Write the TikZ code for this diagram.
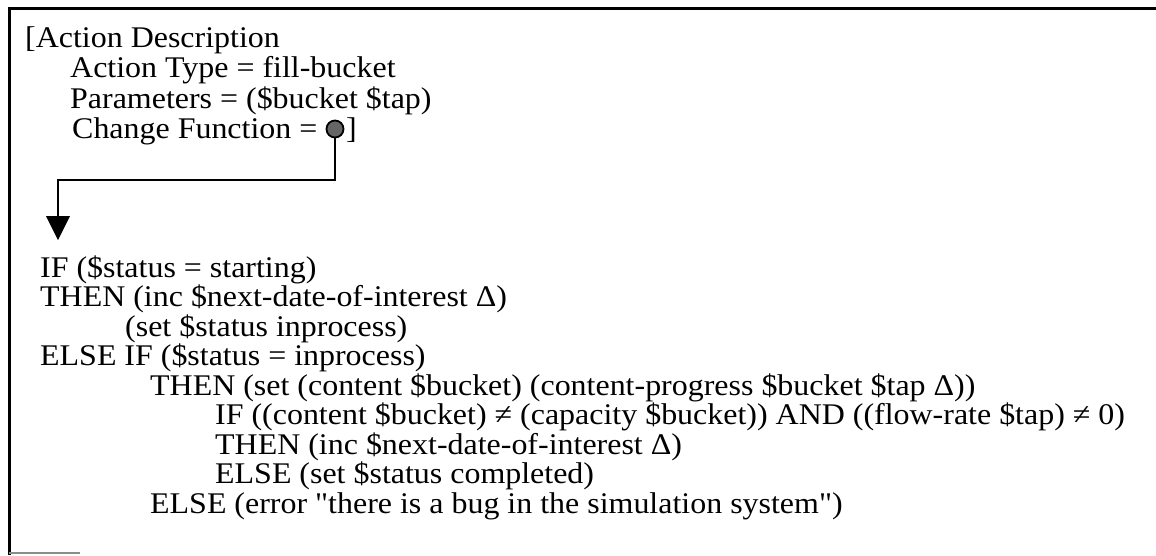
\documentclass[tikz,border=0pt]{standalone}
\usepackage{fontspec}
\setmainfont{Liberation Serif}[Ligatures=TeXOff,FakeStretch=1.065]
\begin{document}
\begin{tikzpicture}[x=1pt,y=-1pt,
  codeline/.style={anchor=base west,inner sep=0pt,font=\fontsize{30}{30}\selectfont},
  frame/.style={line width=3pt,black},
  wire/.style={line width=2.6pt,black}]
\useasboundingbox (0,0) rectangle (1156,555);
% open frame: top and left sides
\draw[frame] (1156,8) -- (9,8) -- (9,555);
\draw[line width=2pt,black!45] (9,553) -- (80,553);

% action description header
\node[codeline] (hdr) at (25,47) {[Action Description};
\node[codeline] (atype) at (70,77.5) {Action Type = fill-bucket};
\node[codeline] (params) at (70,108) {Parameters = (\$bucket \$tap)};
\node[codeline] (chg) at (72,138.5) {Change Function =};
\node[draw=black,line width=1.8pt,fill=black!60,circle,minimum size=17pt,inner sep=0pt] (dot) at (335,129) {};
\node[codeline] (brk) at (346,138.5) {]};

% change function body
\node[codeline] (l1) at (40,277) {IF (\$status = starting)};
\node[codeline] (l2) at (40,306.5) {THEN (inc \$next-date-of-interest Δ)};
\node[codeline] (l3) at (125,336) {(set \$status inprocess)};
\node[codeline] (l4) at (40,365.5) {ELSE IF (\$status = inprocess)};
\node[codeline] (l5) at (150,395) {THEN (set (content \$bucket) (content-progress \$bucket \$tap Δ))};
\node[codeline] (l6) at (215,424.5) {IF ((content \$bucket) ≠ (capacity \$bucket)) AND ((flow-rate \$tap) ≠ 0)};
\node[codeline] (l7) at (215,454) {THEN (inc \$next-date-of-interest Δ)};
\node[codeline] (l8) at (215,483.5) {ELSE (set \$status completed)};
\node[codeline] (l9) at (150,513) {ELSE (error "there is a bug in the simulation system")};

% link from the change function to its body
\coordinate (tip) at (58,240);
\draw[wire] (dot.south) |- (58,180) -- (58,217);
\fill[black] (46,216) -- (70,216) -- (tip) -- cycle;
\end{tikzpicture}
\end{document}
